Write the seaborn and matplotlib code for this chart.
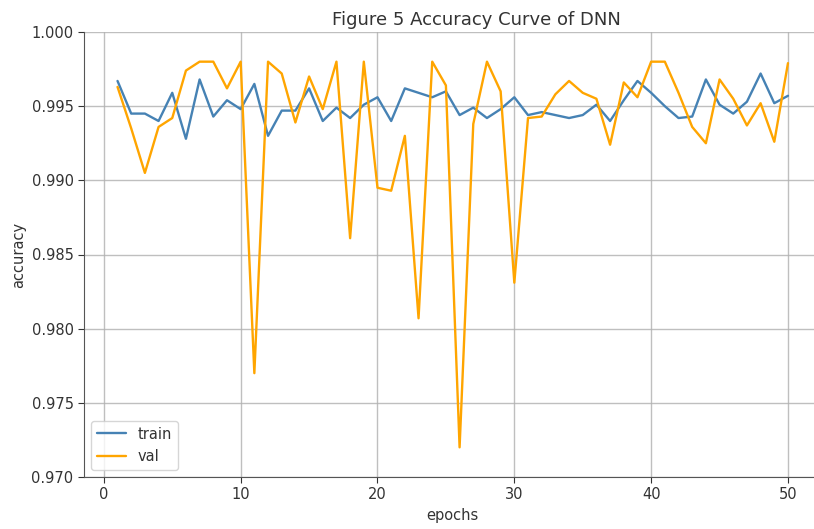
import matplotlib
matplotlib.use('Agg')
import matplotlib.pyplot as plt
import seaborn as sns
import pandas as pd

epochs = list(range(1, 51))

train_acc = [0.9967, 0.9945, 0.9945, 0.9940, 0.9959, 0.9928, 0.9968, 0.9943, 0.9954, 0.9948,
             0.9965, 0.9930, 0.9947, 0.9947, 0.9962, 0.9940, 0.9949, 0.9942, 0.9951, 0.9956,
             0.9940, 0.9962, 0.9959, 0.9956, 0.9960, 0.9944, 0.9949, 0.9942, 0.9948, 0.9956,
             0.9944, 0.9946, 0.9944, 0.9942, 0.9944, 0.9951, 0.9940, 0.9954, 0.9967, 0.9959,
             0.9950, 0.9942, 0.9943, 0.9968, 0.9951, 0.9945, 0.9953, 0.9972, 0.9952, 0.9957]

val_acc = [0.9963, 0.9935, 0.9905, 0.9936, 0.9942, 0.9974, 0.9980, 0.9980, 0.9962, 0.9980,
           0.9770, 0.9980, 0.9972, 0.9939, 0.9970, 0.9948, 0.9980, 0.9861, 0.9980, 0.9895,
           0.9893, 0.9930, 0.9807, 0.9980, 0.9964, 0.9720, 0.9938, 0.9980, 0.9960, 0.9831,
           0.9942, 0.9943, 0.9958, 0.9967, 0.9959, 0.9955, 0.9924, 0.9966, 0.9956, 0.9980,
           0.9980, 0.9959, 0.9936, 0.9925, 0.9968, 0.9955, 0.9937, 0.9952, 0.9926, 0.9979]

df = pd.DataFrame({'epochs': epochs, 'train': train_acc, 'val': val_acc})

sns.set_style('ticks')
plt.rcParams['text.color'] = '#333333'
plt.rcParams['axes.labelcolor'] = '#333333'
plt.rcParams['xtick.color'] = '#333333'
plt.rcParams['ytick.color'] = '#333333'
plt.rcParams['font.size'] = 10.5

dpi = 100
fig = plt.figure(figsize=(814 / dpi, 529 / dpi), dpi=dpi)
ax = fig.add_axes([84 / 814, 1 - 477 / 529, (821.5 - 84) / 814, (477 - 32) / 529])

sns.lineplot(data=df, x='epochs', y='train', ax=ax, color='#4682b4', linewidth=1.7, label='train')
sns.lineplot(data=df, x='epochs', y='val', ax=ax, color='orange', linewidth=1.7, label='val')

ax.set_xlim(-1.45, 52.45)
ax.set_ylim(0.970, 1.000)
ax.set_yticks([0.970, 0.975, 0.980, 0.985, 0.990, 0.995, 1.000])
ax.set_yticklabels(['0.970', '0.975', '0.980', '0.985', '0.990', '0.995', '1.000'])
ax.set_xticks([0, 10, 20, 30, 40, 50])
ax.tick_params(labelsize=10.5, length=4)
ax.grid(True, color='#b0b0b0', linewidth=1.0, alpha=0.8)
for s in ['top', 'right']:
    ax.spines[s].set_visible(False)
for s in ['left', 'bottom']:
    ax.spines[s].set_color('#555555')
ax.set_xlabel('epochs', fontsize=10.5)
ax.set_ylabel('accuracy', fontsize=10.5)
ax.set_title('Figure 5 Accuracy Curve of DNN', fontsize=13, x=(476 - 84) / (821.5 - 84), pad=5)
ax.legend(loc='lower left', fontsize=10.5)

fig.savefig('out.png', dpi=dpi)
